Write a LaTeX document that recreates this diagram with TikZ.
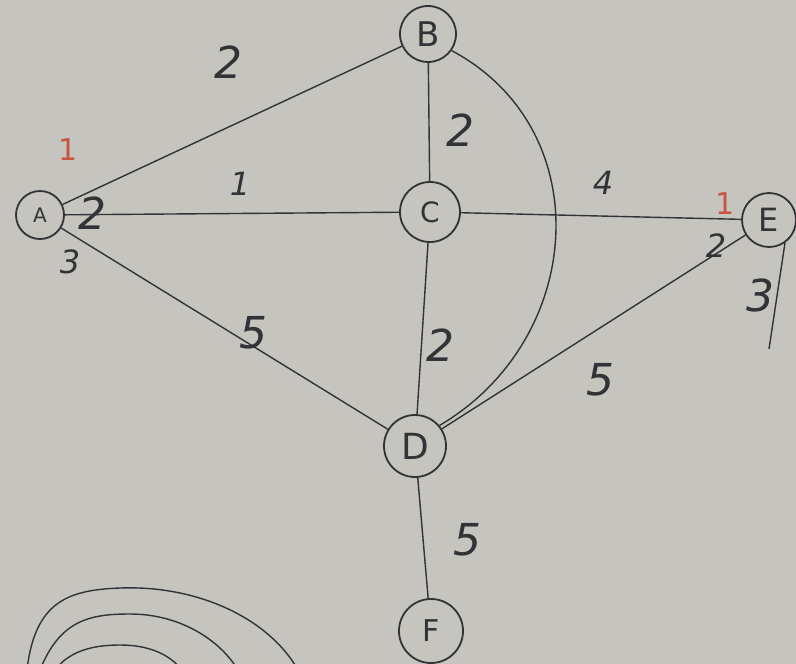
\documentclass[tikz,border=0pt]{standalone}
\usepackage{fontspec}
\setmainfont{DejaVu Sans}
\definecolor{paper}{RGB}{198,196,191}
\definecolor{ink}{RGB}{50,50,55}
\definecolor{redink}{RGB}{200,85,65}
\tikzset{
  vert/.style={circle, draw=ink, line width=1.8pt, inner sep=0pt, text=ink, font=\fontsize{28}{30}\selectfont},
  edge/.style={draw=ink, line width=1.4pt},
  wlabel/.style={text=ink, font=\fontsize{44}{46}\selectfont\itshape},
  slabel/.style={text=ink, font=\fontsize{32}{34}\selectfont\itshape},
  rlabel/.style={text=redink, font=\fontsize{30}{32}\selectfont},
}
\begin{document}
\begin{tikzpicture}[x=1pt,y=-1pt]
\useasboundingbox (0,0) rectangle (796,664);
\fill[paper] (0,0) rectangle (796,664);
% vertices
\node[vert, minimum size=48pt, font=\fontsize{20}{22}\selectfont] (A) at (40,215) {A};
\node[vert, minimum size=56pt, font=\fontsize{34}{36}\selectfont] (B) at (428,34) {B};
\node[vert, minimum size=60pt] (C) at (430,212) {C};
\node[vert, minimum size=62pt, font=\fontsize{36}{38}\selectfont] (D) at (415,446) {D};
\node[vert, minimum size=54pt, font=\fontsize{32}{34}\selectfont] (E) at (769,220) {E};
\node[vert, minimum size=64pt, font=\fontsize{30}{32}\selectfont] (F) at (431,631) {F};
\coordinate (Etail) at (769,349);
% edges
\draw[edge] (A) -- (B);
\draw[edge] (A) -- (C);
\draw[edge] (A) -- (D);
\draw[edge] (B) -- (C);
\draw[edge] (C) -- (D);
\draw[edge] (C) -- (E);
\draw[edge] (D) -- (E);
\draw[edge] (D) -- (F);
\draw[edge] (B.-35) .. controls (600,130) and (585,340) .. (D.40);
\draw[edge] (E.-55) -- (Etail);
% weights
\node[wlabel] (lab) at (228,62) {2};
\node[rlabel] (r1) at (68,150) {1};
\node[wlabel] (lac1) at (92,213) {2};
\node[slabel] (lac2) at (240,184) {1};
\node[slabel] (lad1) at (70,262) {3};
\node[wlabel] (lad2) at (253,333) {5};
\node[wlabel] (lbc) at (460,130) {2};
\node[wlabel] (lcd) at (440,345) {2};
\node[slabel] (lce) at (603,183) {4};
\node[rlabel] (r2) at (725,204) {1};
\node[slabel] (lde1) at (716,246) {2};
\node[wlabel] (lde2) at (600,380) {5};
\node[wlabel] (le3) at (760,295) {3};
\node[wlabel] (ldf) at (467,540) {5};
% scribbled arcs bottom left
\begin{scope}
\clip (0,0) rectangle (796,664);
\draw[edge] (27,670) .. controls (35,600) and (70,590) .. (120,588) .. controls (200,585) and (270,620) .. (298,670);
\draw[edge] (40,670) .. controls (60,620) and (90,614) .. (130,614) .. controls (180,614) and (220,640) .. (238,670);
\draw[edge] (55,670) .. controls (70,650) and (95,645) .. (120,645) .. controls (150,645) and (170,655) .. (182,670);
\end{scope}
\end{tikzpicture}
\end{document}
